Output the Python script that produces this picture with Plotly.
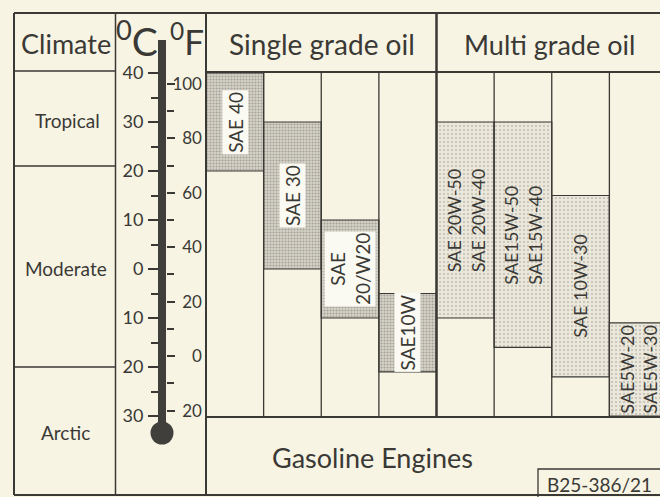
import plotly.graph_objects as go

# ---- data -------------------------------------------------------------
grades = [
    "SAE 40", "SAE 30", "SAE<br>20/W20", "SAE10W",
    "SAE 20W-50<br>SAE 20W-40", "SAE15W-50<br>SAE15W-40",
    "SAE 10W-30", "SAE5W-20<br>SAE5W-30",
]
low_c = [20, 0, -10, -21, -10, -16, -22, -30]     # lowest ambient temp, °C
high_c = [40, 30, 10, -5, 30, 30, 15, -11]        # highest ambient temp, °C
n_single = 4                                      # first four are single grade

climates = ["Tropical", "Moderate", "Arctic"]
celsius_ticks = [40, 30, 20, 10, 0, -10, -20, -30]
celsius_minor = [35, 25, 15, 5, -5, -15, -25]
fahrenheit_ticks = [100, 80, 60, 40, 20, 0, -20]
fahrenheit_minor = [90, 70, 50, 30, 10, -10]

# ---- page geometry ----------------------------------------------------
W, H = 660, 497
Y0, K = 269, 4.9          # 0 °C sits at y=269 px, 4.9 px per °C


def c_at(ypx):
    return (Y0 - ypx) / K


C_LO, C_HI = c_at(H), c_at(0)
F_LO, F_HI = C_LO * 1.8 + 32, C_HI * 1.8 + 32


def px(x):
    return x / W


def py(y):
    return 1 - y / H


LEFT, CLIM_R, THERMO_R, SPLIT, RIGHT = 14, 115.5, 206, 436.5, 660
TOP, HEAD_B, BOTTOM = 13, 72, 495
COL_W = (SPLIT - THERMO_R) / 4
STEM_L, STEM_R = 158, 166

INK = "#3a3935"
BG = "#f7f4e4"
FONT = "Lato, sans-serif"

fig = go.Figure()

single_style = dict(
    color="#d3d0c5",
    pattern=dict(shape=".", fgcolor="#74716a", bgcolor="#d6d3c8", size=3, solidity=0.4),
    line=dict(color=INK, width=1.2),
)
multi_style = dict(
    color="#ebe8db",
    pattern=dict(shape=".", fgcolor="#8f8c84", bgcolor="#ebe8db", size=4, solidity=0.2),
    line=dict(color=INK, width=1.2),
)

for sl, style in ((slice(0, n_single), single_style), (slice(n_single, None), multi_style)):
    fig.add_trace(go.Bar(
        x=grades[sl],
        y=[h - l for h, l in zip(high_c[sl], low_c[sl])],
        base=low_c[sl],
        width=1,
        marker=style,
        hoverinfo="skip",
        showlegend=False,
        xaxis="x", yaxis="y",
    ))

# keeps the Fahrenheit axis attached to the figure
fig.add_trace(go.Scatter(x=[None], y=[None], xaxis="x", yaxis="y2",
                         showlegend=False, hoverinfo="skip"))

# ---- grade labels inside the bands ---------------------------------------
annotations = []
for i, (g, lo, hi) in enumerate(zip(grades, low_c, high_c)):
    single = i < n_single
    annotations.append(dict(
        x=g, y=(lo + hi) / 2, xref="x", yref="y",
        xanchor="center", yanchor="middle",
        text=g, textangle=-90, showarrow=False,
        font=dict(family=FONT, size=19 if single else 18, color=INK),
        bgcolor="#fbfaf2" if single else "rgba(0,0,0,0)",
        borderpad=1,
    ))


# ---- headers and row names ---------------------------------------------
def label(text, x, y, size, **kw):
    annotations.append(dict(
        x=px(x), y=py(y), xref="paper", yref="paper", text=text,
        xanchor="center", yanchor="middle",
        showarrow=False, font=dict(family=FONT, size=size, color=INK), **kw))


label("Climate", 66, 43, 27)
label("<sup>0</sup>C", 137, 39, 39)
label("<sup>0</sup>F", 187, 39, 35)
label("Single grade oil", 322, 44, 28)
label("Multi grade oil", 549, 44, 27)
label(climates[0], 67, 120, 19)
label(climates[1], 66, 268, 19)
label(climates[2], 65, 432, 19)
label("Gasoline Engines", 372, 457, 27)
label("B25-386/21", 599, 484, 19)

# ---- table rules ----------------------------------------------------------
shapes = []


def rule(x0, y0, x1, y1, w=1.4):
    shapes.append(dict(type="line", xref="paper", yref="paper",
                       x0=px(x0), y0=py(y0), x1=px(x1), y1=py(y1),
                       line=dict(color=INK, width=w)))


rule(LEFT, TOP, RIGHT, TOP, 2)
rule(LEFT, BOTTOM, RIGHT, BOTTOM, 2)
rule(LEFT, TOP, LEFT, BOTTOM, 2)
rule(CLIM_R, TOP, CLIM_R, BOTTOM, 1.5)
rule(THERMO_R, TOP, THERMO_R, BOTTOM, 2)
rule(LEFT, HEAD_B - 1, CLIM_R, HEAD_B - 1, 1.5)
rule(THERMO_R, HEAD_B, RIGHT, HEAD_B, 2)
rule(LEFT, 166, CLIM_R, 166, 1.3)
rule(LEFT, 367, CLIM_R, 367, 1.3)
rule(SPLIT, TOP, SPLIT, 417, 2.5)
rule(THERMO_R, 417, RIGHT, 417, 2)

# column dividers between grades, in data coordinates
for i in range(len(grades) - 1):
    if i == n_single - 1:
        continue
    shapes.append(dict(type="line", xref="x", yref="y",
                       x0=i + 0.5, x1=i + 0.5, y0=celsius_ticks[0], y1=celsius_ticks[-1],
                       line=dict(color=INK, width=1.3)))

# drawing-number box
shapes.append(dict(type="rect", xref="paper", yref="paper",
                   x0=px(538), x1=px(663), y0=py(469), y1=py(500),
                   line=dict(color=INK, width=1.3)))

# thermometer stem and bulb
shapes.append(dict(type="rect", xref="paper", yref="y",
                   x0=px(STEM_L), x1=px(STEM_R), y0=c_at(433), y1=c_at(40),
                   fillcolor="#403f3b", line=dict(width=0)))
shapes.append(dict(type="circle", xref="paper", yref="paper",
                   x0=px(150.5), x1=px(173.5), y0=py(421.5), y1=py(444.5),
                   fillcolor="#403f3b", line=dict(width=0)))

fig.update_layout(
    width=W, height=H,
    margin=dict(l=0, r=0, t=0, b=0),
    paper_bgcolor=BG, plot_bgcolor="rgba(0,0,0,0)",
    barmode="overlay",
    annotations=annotations,
    shapes=shapes,
    xaxis=dict(
        domain=[px(THERMO_R), 1],
        type="category", categoryorder="array", categoryarray=grades,
        range=[-0.5, -0.5 + (RIGHT - THERMO_R) / COL_W],
        visible=False, fixedrange=True,
    ),
    yaxis=dict(
        domain=[0, 1], range=[C_LO, C_HI],
        anchor="free", position=px(STEM_L), side="left",
        showgrid=False, zeroline=False, showline=False,
        tickmode="array", tickvals=celsius_ticks,
        ticktext=[str(abs(v)) for v in celsius_ticks],
        ticks="outside", ticklen=10, tickwidth=1.6, tickcolor=INK,
        ticklabelstandoff=1,
        minor=dict(tickvals=celsius_minor, ticks="outside", ticklen=7,
                   tickwidth=1.6, tickcolor=INK, showgrid=False),
        tickfont=dict(family=FONT, size=18, color=INK), fixedrange=True,
    ),
    yaxis2=dict(
        overlaying="y", range=[F_LO, F_HI],
        anchor="free", position=px(STEM_R), side="right",
        showgrid=False, zeroline=False, showline=False,
        tickmode="array", tickvals=fahrenheit_ticks,
        ticktext=[("\u2007" * (3 - len(str(abs(v))))) + str(abs(v)) for v in fahrenheit_ticks],
        ticks="outside", ticklen=8, tickwidth=1.6, tickcolor=INK,
        ticklabelstandoff=-6,
        minor=dict(tickvals=fahrenheit_minor, ticks="outside", ticklen=7,
                   tickwidth=1.6, tickcolor=INK, showgrid=False),
        tickfont=dict(family=FONT, size=17, color=INK), fixedrange=True,
    ),
)

fig.write_html("out.html")
